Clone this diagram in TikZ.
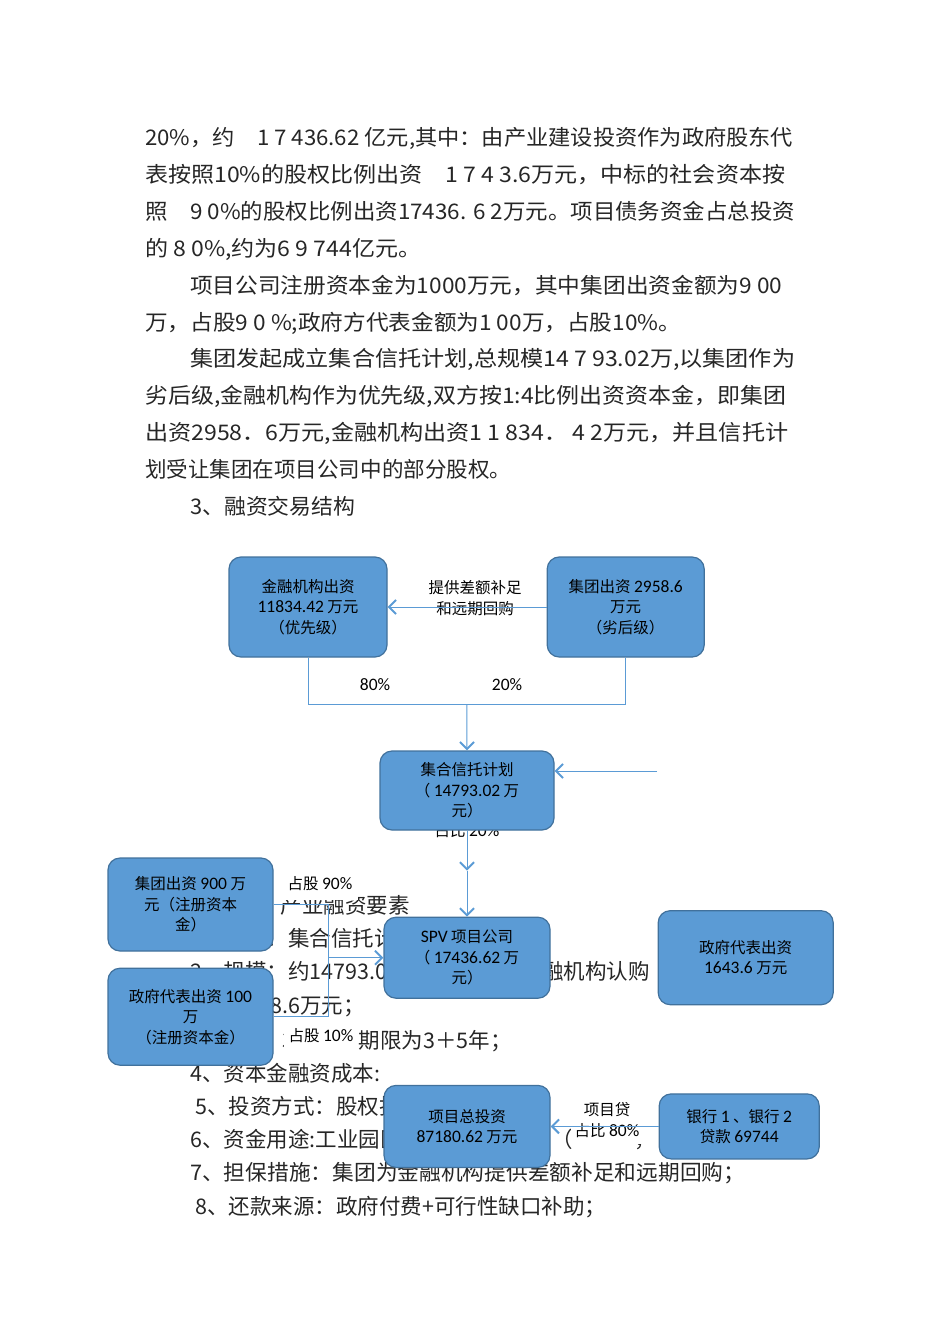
\documentclass[tikz,border=0pt]{standalone}
\usepackage{fontspec}
\usepackage{graphicx}
\setmainfont{Noto Sans CJK SC}
\newfontfamily\numf{Carlito}
\usetikzlibrary{arrows.meta,positioning,calc}
\definecolor{boxfill}{HTML}{5B9BD5}
\definecolor{boxline}{HTML}{41719C}
\definecolor{lnblue}{HTML}{5B9BD5}
\newcommand\bodyfont{\fontsize{21.5}{26}\selectfont}
\newcommand\boxfont{\fontsize{15.5}{20.5}\selectfont}
\newcommand\nm[1]{{\numf\fontsize{17.5}{20.5}\selectfont #1}}
\newcommand\jline[2]{\resizebox{#1pt}{\height}{#2}}
\tikzset{
  bbox/.style={rectangle,rounded corners=12pt,draw=boxline,fill=boxfill,line width=1.2pt,align=center,font=\boxfont,inner sep=2pt},
  lbl/.style={align=center,font=\boxfont,inner sep=2pt},
  wlbl/.style={lbl,fill=white,inner ysep=7pt},
  txt/.style={anchor=base west,inner sep=0pt,font=\bodyfont,text=black!85},
  etxt/.style={txt,anchor=base east},
  ln/.style={draw=lnblue,line width=1pt},
  ae/.style={ln,-{Straight Barb[length=7pt,width=14pt,line width=2pt]}}
}

\begin{document}
\begin{tikzpicture}[x=1pt,y=-1pt]
\useasboundingbox (0,0) rectangle (950,1344);
\node[txt] (t1) at (145,145) {\jline{648}{20\%，约\quad 1 7 436.62 亿元,其中：由产业建设投资作为政府股东代}};
\node[txt] (t2) at (145,182) {\jline{640}{表按照10\%的股权比例出资\quad 1 7 4 3.6万元，中标的社会资本按}};
\node[txt] (t3) at (145,219) {\jline{650}{照\quad 9 0\%的股权比例出资17436. 6 2万元。项目债务资金占总投资}};
\node[txt] (t4) at (145,256) {\jline{276}{的 8 0\%,约为6 9 744亿元。}};
\node[txt] (t5) at (190,293) {\jline{592}{项目公司注册资本金为1000万元，其中集团出资金额为9 00}};
\node[txt] (t6) at (145,330) {\jline{536}{万，占股9 0 \%;政府方代表金额为1 00万，占股10\%。}};
\node[txt] (t7) at (190,366) {\jline{605}{集团发起成立集合信托计划,总规模14 7 93.02万,以集团作为}};
\node[txt] (t8) at (145,403) {\jline{641}{劣后级,金融机构作为优先级,双方按1:4比例出资资本金，即集团}};
\node[txt] (t9) at (145,440) {\jline{643}{出资2958．6万元,金融机构出资1 1 834． 4 2万元，并且信托计}};
\node[txt] (t10) at (145,477) {\jline{366}{划受让集团在项目公司中的部分股权。}};
\node[txt] (t11) at (190,514) {\jline{165}{3、融资交易结构}};

\node[etxt] (l1) at (410,913) {二、产业融资要素};
\node[txt] (l2) at (190,946) {1、名称：集合信托计划};
\node[txt] (l3) at (190,979) {2、规模：约14793.02万元，其中};
\node[etxt] (l3b) at (650,979) {金融机构认购};
\node[etxt] (l4) at (365,1013) {集团认购2958.6万元；};
\node[etxt] (l5) at (512,1048) {3、投资期限为3＋5年；};
\node[txt] (l6) at (190,1081) {4、资本金融资成本:};
\node[txt] (l7) at (195,1114) {5、投资方式：股权投资；};
\node[txt] (l8) at (190,1147) {6、资金用途:工业园区基础设施建设};
\node[txt] (l8b) at (551,1147) {（\hspace{62pt}，};
\node[txt] (l9) at (190,1180) {\jline{555}{7、担保措施：集团为金融机构提供差额补足和远期回购；}};
\node[txt] (l10) at (195,1214) {8、还款来源：政府付费+可行性缺口补助；};

\node[lbl] (bc) at (475,598) {提供差额补足\\和远期回购};
\node[lbl] (p80) at (375,685) {\nm{80\%}};
\node[lbl] (p20) at (507,685) {\nm{20\%}};
\node[lbl] (tr20) at (467,831) {占比 \nm{20\%}};
\node[wlbl,inner ysep=9pt,inner xsep=6pt] (s90) at (320,884) {占股 \nm{90\%}};
\node[wlbl,inner xsep=5pt] (s10) at (321,1036) {占股 \nm{10\%}};
\node[wlbl,inner xsep=4pt] (loan) at (607,1120) {项目贷\\占比 \nm{80\%}};

\node[bbox,minimum width=158pt,minimum height=100pt] (fin) at (308,607) {金融机构出资\\\nm{11834.42} 万元\\（优先级）};
\node[bbox,minimum width=157pt,minimum height=100pt,right=159pt of fin] (grp) {集团出资 \nm{2958.6}\\万元\\（劣后级）};
\node[bbox,minimum width=174pt,minimum height=79pt] (trust) at (467,790.5) {集合信托计划\\（ \nm{14793.02} 万\\元）};
\node[bbox,minimum width=166pt,minimum height=81pt,below=86pt of trust] (spv) {\nm{SPV} 项目公司\\（ \nm{17436.62} 万\\元）};
\node[bbox,minimum width=175pt,minimum height=94pt,right=107pt of spv] (gov) {政府代表出资\\\nm{1643.6} 万元};
\node[bbox,minimum width=165pt,minimum height=93pt] (g900) at (190.5,904.5) {集团出资 \nm{900} 万\\元（注册资本\\金）};
\node[bbox,minimum width=165pt,minimum height=97pt,below=16pt of g900] (g100) {政府代表出资 \nm{100}\\万\\（注册资本金）};
\node[bbox,minimum width=166pt,minimum height=82pt,below=86pt of spv] (tot) {项目总投资\\\nm{87180.62} 万元};
\node[bbox,minimum width=160pt,minimum height=65pt,right=108pt of tot] (bank) {银行 \nm{1} 、银行 \nm{2}\\贷款 \nm{69744}};

\draw[ae] (grp) -- (fin);
\draw[ln] (fin.south) -- ++(0,47) -| (grp.south);
\coordinate (jn) at ($(fin.south)!0.5!(grp.south)+(0,47)$);
\draw[ae] (jn) -- (trust.north);
\coordinate (tin) at (657,771);
\draw[ae] (tin) -- (tin -| trust.east);
\coordinate (mid) at ($(trust.south)+(0,40)$);
\draw[ae] (trust.south) -- (mid);
\draw[ae] (mid) -- (spv.north);
\coordinate (brk) at ($(g900.east)+(55,0)$);
\draw[ln] (g900.east) -- (brk) |- (g100.east);
\draw[ae] (brk |- spv.west) -- (spv.west);
\draw[ae] (bank) -- (tot);
\end{tikzpicture}
\end{document}
